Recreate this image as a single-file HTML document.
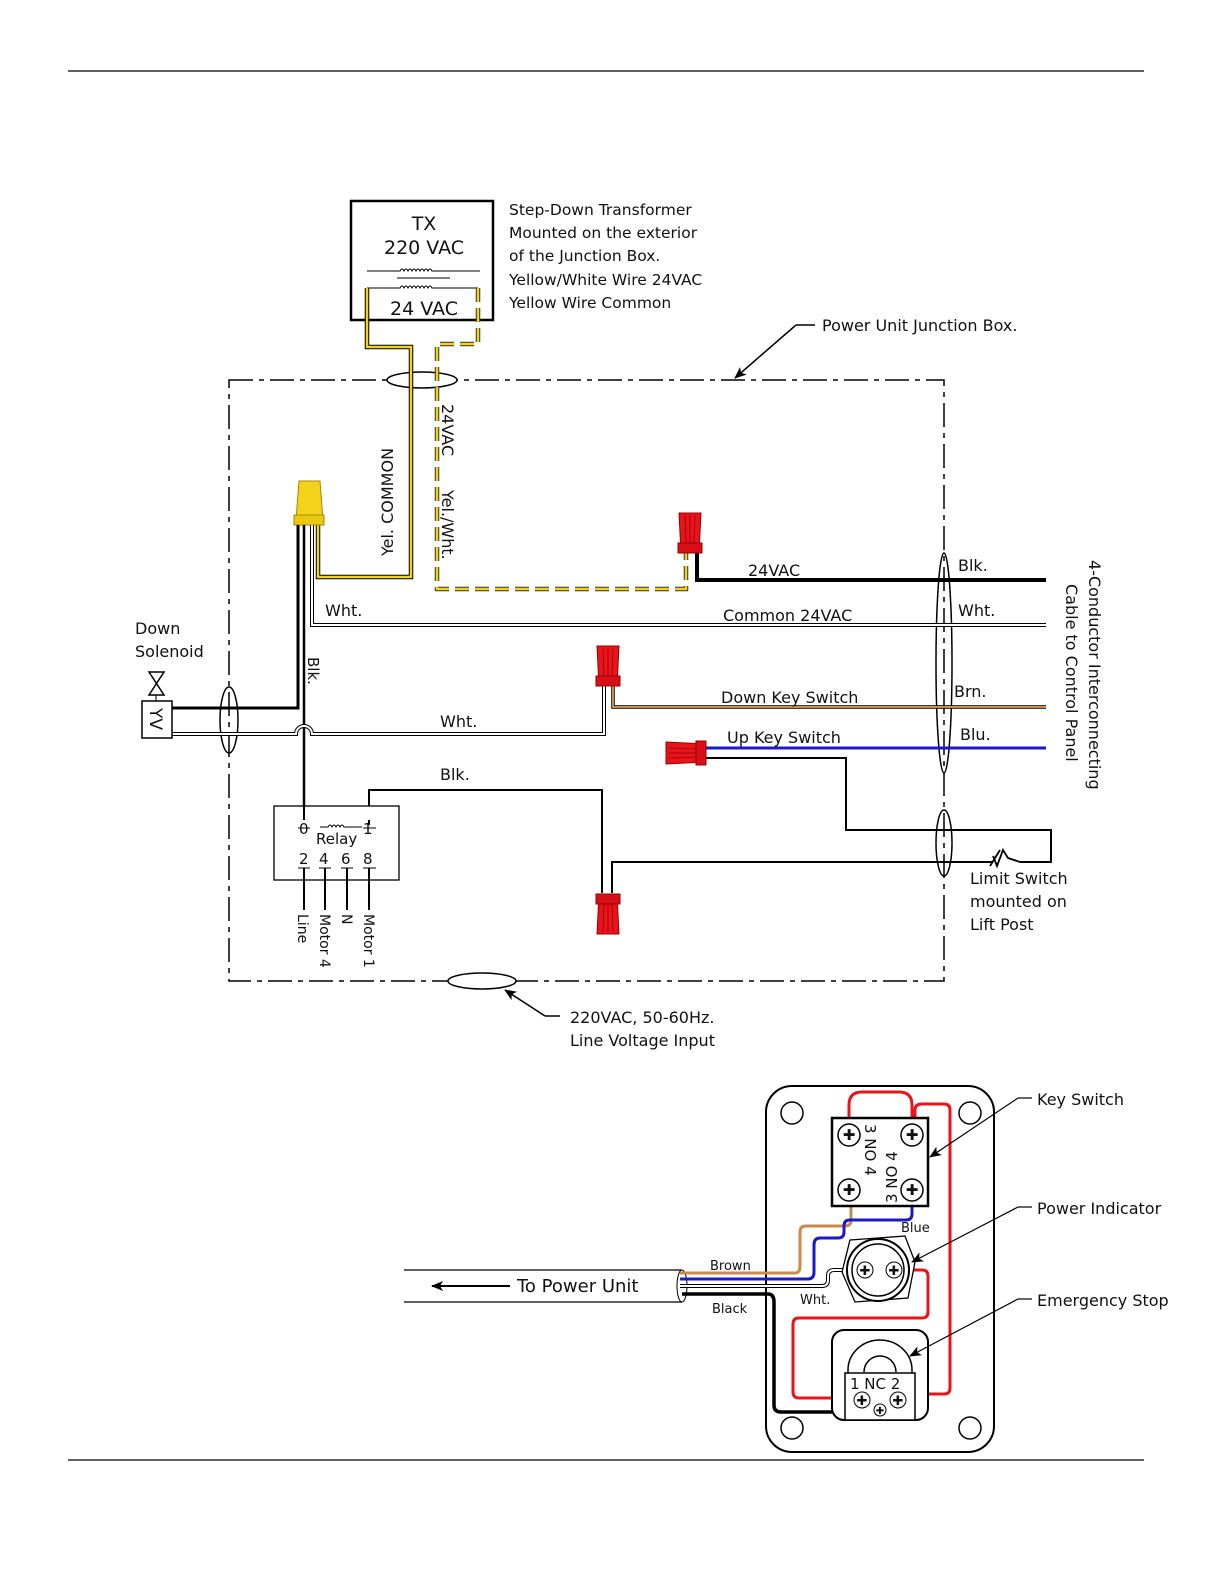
<!DOCTYPE html>
<html><head><meta charset="utf-8"><style>
html,body{margin:0;padding:0;background:#fff;overflow:hidden;width:1224px;height:1584px}
svg{display:block;position:absolute;left:0;top:0}
text{font-family:"DejaVu Sans","Liberation Sans",sans-serif;fill:#111}
</style></head><body>
<svg width="1224" height="1584" viewBox="0 0 1224 1584" xmlns="http://www.w3.org/2000/svg">
<defs>
<marker id="ar" markerWidth="12" markerHeight="10" refX="11" refY="5" orient="auto" markerUnits="userSpaceOnUse"><path d="M0,0 L12,5 L0,10 L3,5 Z" fill="#000"/></marker>
<g id="rc"><path d="M-9,0 L-11,-40 L11,-40 L9,0 Z" fill="#e8141c" stroke="#900" stroke-width="1"/><rect x="-12" y="-10" width="24" height="10" fill="#d71018" stroke="#900"/><path d="M-5,-38 L-4,-10 M0,-38 L0,-10 M5,-38 L4,-10" stroke="#900" stroke-width="0.8"/></g>
</defs>
<line x1="68" y1="71" x2="1144" y2="71" stroke="#000" stroke-width="1.2"/>
<line x1="68" y1="1460" x2="1144" y2="1460" stroke="#000" stroke-width="1.2"/>

<!-- Transformer -->
<rect x="351" y="201" width="142" height="119" fill="none" stroke="#000" stroke-width="2.5"/>
<text x="424" y="230" font-size="19" text-anchor="middle">TX</text>
<text x="424" y="254" font-size="19" text-anchor="middle">220 VAC</text>
<path d="M367,271 H400 q2,-4 4,0 q2,-4 4,0 q2,-4 4,0 q2,-4 4,0 q2,-4 4,0 q2,-4 4,0 q2,-4 4,0 q2,-4 4,0 H480" fill="none" stroke="#000"/>
<line x1="397" y1="278" x2="450" y2="278" stroke="#000"/>
<path d="M367,288 H400 q2,-4 4,0 q2,-4 4,0 q2,-4 4,0 q2,-4 4,0 q2,-4 4,0 q2,-4 4,0 q2,-4 4,0 q2,-4 4,0 H478" fill="none" stroke="#000"/>
<text x="424" y="315" font-size="19" text-anchor="middle">24 VAC</text>
<g font-size="15.5"><text x="509" y="215">Step-Down Transformer</text><text x="509" y="238">Mounted on the exterior</text><text x="509" y="261">of the Junction Box.</text><text x="509" y="285">Yellow/White Wire 24VAC</text><text x="509" y="308">Yellow Wire Common</text></g>

<!-- Junction box -->
<rect x="229" y="380" width="715" height="601" fill="none" stroke="#000" stroke-width="1.5" stroke-dasharray="24,6,5,6"/>
<ellipse cx="422" cy="380" rx="35" ry="8" fill="#fff" stroke="#000" stroke-width="1.5"/>
<ellipse cx="482" cy="981" rx="34" ry="8" fill="#fff" stroke="#000" stroke-width="1.5"/>
<ellipse cx="229" cy="720" rx="9" ry="33" fill="none" stroke="#000" stroke-width="1.5"/>
<ellipse cx="944" cy="663" rx="8" ry="110" fill="none" stroke="#000" stroke-width="1.5"/>
<ellipse cx="944" cy="843" rx="8" ry="33" fill="none" stroke="#000" stroke-width="1.5"/>
<line x1="815" y1="325" x2="796" y2="325" stroke="#000" stroke-width="1.5"/>
<line x1="796" y1="325" x2="735" y2="378" stroke="#000" stroke-width="1.5" marker-end="url(#ar)"/>
<text x="822" y="331" font-size="16">Power Unit Junction Box.</text>

<!-- Yellow common solid -->
<path d="M367,288 V347 H411 V577 H318 V525" fill="none" stroke="#000" stroke-width="4.5"/>
<path d="M367,288 V347 H411 V577 H318 V525" fill="none" stroke="#f2d21b" stroke-width="2.5"/>
<!-- Yellow dashed -->
<path d="M478,288 V344 H437 V589 H686 V553" fill="none" stroke="#333" stroke-width="4.5" stroke-dasharray="14,6"/>
<path d="M478,288 V344 H437 V589 H686 V553" fill="none" stroke="#f2d21b" stroke-width="2.5" stroke-dasharray="14,6"/>
<text transform="translate(393,556) rotate(-90)" font-size="16">Yel.  COMMON</text>
<text transform="translate(442,404) rotate(90)" font-size="16">24VAC</text>
<text transform="translate(442,490) rotate(90)" font-size="16">Yel./Wht.</text>

<!-- yellow connector -->
<path d="M296,520 L299,481 L320,481 L323,520 Z" fill="#f2d21b" stroke="#a08a00"/>
<rect x="294" y="515" width="30" height="10" fill="#e9c80f" stroke="#a08a00"/>

<!-- wires from yellow connector -->
<path d="M298,525 V708 H172" fill="none" stroke="#000" stroke-width="3"/>
<path d="M304,525 V820" fill="none" stroke="#000" stroke-width="2.5"/>
<path d="M312,525 V625 H1046" fill="none" stroke="#000" stroke-width="4"/>
<path d="M312,525 V625 H1046" fill="none" stroke="#fff" stroke-width="2"/>
<text x="325" y="616" font-size="16">Wht.</text>
<text transform="translate(308,657) rotate(90)" font-size="15">Blk.</text>

<!-- white from solenoid to red connector -->
<path d="M172,734 H296 a8,8 0 0 1 16,0 H604 V686" fill="none" stroke="#000" stroke-width="4"/>
<path d="M172,734 H296 a8,8 0 0 1 16,0 H604 V686" fill="none" stroke="#fff" stroke-width="2"/>
<text x="440" y="727" font-size="16">Wht.</text>

<!-- 24VAC black -->
<path d="M697,553 V580 H1046" fill="none" stroke="#000" stroke-width="4"/>
<text x="748" y="576" font-size="16">24VAC</text>
<text x="723" y="621" font-size="16">Common 24VAC</text>
<!-- brown -->
<path d="M613,686 V707 H1046" fill="none" stroke="#000" stroke-width="3.5"/>
<path d="M613,686 V707 H1046" fill="none" stroke="#c98a4a" stroke-width="2"/>
<text x="721" y="703" font-size="16">Down  Key Switch</text>
<!-- blue -->
<path d="M706,748 H1046" fill="none" stroke="#1a1ac8" stroke-width="3"/>
<text x="727" y="743" font-size="16">Up Key Switch</text>
<path d="M706,758 H846 V830 H1051 V862 H1020" fill="none" stroke="#000" stroke-width="2"/>
<path d="M612,893 V862 H993" fill="none" stroke="#000" stroke-width="2"/>
<path d="M993,856 L997,866 L1003,850 L1008,858 L1020,862 M990,866 L1000,850" fill="none" stroke="#000" stroke-width="1.8"/>
<path d="M369,820 V790 H602 V893" fill="none" stroke="#000" stroke-width="2"/>
<text x="440" y="780" font-size="16">Blk.</text>

<g font-size="16"><text x="958" y="571">Blk.</text><text x="958" y="616">Wht.</text><text x="954" y="697">Brn.</text><text x="960" y="740">Blu.</text></g>
<g font-size="16"><text x="970" y="884">Limit Switch</text><text x="970" y="907">mounted on</text><text x="970" y="930">Lift Post</text></g>
<text transform="translate(1089,560) rotate(90)" font-size="16">4-Conductor Interconnecting</text>
<text transform="translate(1066,584) rotate(90)" font-size="16">Cable to  Control Panel</text>

<!-- red connectors -->
<use href="#rc" transform="translate(690,553)"/>
<use href="#rc" transform="translate(608,686)"/>
<use href="#rc" transform="translate(608,894) rotate(180)"/>
<use href="#rc" transform="translate(706,753) rotate(-90)"/>

<!-- solenoid -->
<rect x="142" y="701" width="30" height="37" fill="#fff" stroke="#000" stroke-width="1.5"/>
<text transform="translate(150,708) rotate(90)" font-size="17">YV</text>
<path d="M149,672 L164,672 L149,695 L164,695 Z" fill="none" stroke="#000" stroke-width="1.5"/>
<line x1="156" y1="695" x2="156" y2="701" stroke="#000"/>
<text x="135" y="634" font-size="16">Down</text>
<text x="135" y="657" font-size="16">Solenoid</text>

<!-- relay -->
<rect x="274" y="806" width="125" height="74" fill="#fff" stroke="#000" stroke-width="1.3"/>
<path d="M304,790 V820 M369,820 V825" stroke="#000" stroke-width="2"/>
<path d="M298,828 H310 M363,828 H376" stroke="#000"/>
<path d="M320,827 H328 q2,-4 4,0 q2,-4 4,0 q2,-4 4,0 q2,-4 4,0 H362" fill="none" stroke="#000"/>
<text x="299" y="834" font-size="15">0</text><text x="363" y="834" font-size="15">1</text>
<text x="316" y="844" font-size="15">Relay</text>
<g font-size="15"><text x="299" y="864">2</text><text x="319" y="864">4</text><text x="341" y="864">6</text><text x="363" y="864">8</text></g>
<path d="M298,868 H310 M319,868 H331 M341,868 H353 M363,868 H376" stroke="#000"/>
<path d="M304,868 V910 M325,868 V910 M347,868 V910 M369,868 V910" stroke="#000" stroke-width="2"/>
<g font-size="14"><text transform="translate(298,914) rotate(90)">Line</text><text transform="translate(320,914) rotate(90)">Motor 4</text><text transform="translate(342,914) rotate(90)">N</text><text transform="translate(364,914) rotate(90)">Motor 1</text></g>

<line x1="560" y1="1016" x2="545" y2="1016" stroke="#000" stroke-width="1.5"/>
<line x1="545" y1="1016" x2="505" y2="990" stroke="#000" stroke-width="1.5" marker-end="url(#ar)"/>
<text x="570" y="1023" font-size="16">220VAC, 50-60Hz.</text>
<text x="570" y="1046" font-size="16">Line Voltage Input</text>

<!-- Lower panel -->
<rect x="766" y="1086" width="228" height="366" rx="26" fill="#fff" stroke="#000" stroke-width="2"/>
<g fill="none" stroke="#000" stroke-width="1.5"><circle cx="792" cy="1113" r="11"/><circle cx="970" cy="1113" r="11"/><circle cx="792" cy="1428" r="11"/><circle cx="970" cy="1428" r="11"/></g>
<!-- cable -->
<path d="M404,1270 H682 M404,1302 H682" stroke="#000" stroke-width="1.3"/>
<ellipse cx="682" cy="1286" rx="5" ry="16" fill="#fff" stroke="#000"/>
<line x1="510" y1="1286" x2="432" y2="1286" stroke="#000" stroke-width="2" marker-end="url(#ar)"/>
<text x="517" y="1292" font-size="18">To Power Unit</text>
<!-- wires -->
<path d="M680,1273 H795 Q800,1273 800,1266 V1232 Q800,1226 806,1226 H845 Q851,1226 851,1220 V1206" fill="none" stroke="#c98a4a" stroke-width="3"/>
<path d="M680,1279 H808 Q814,1279 814,1272 V1245 Q814,1238 820,1238 H838 Q844,1238 844,1232 V1226 Q844,1220 850,1220 H906 Q912,1220 912,1214 V1206" fill="none" stroke="#1a1ac8" stroke-width="3"/>
<path d="M680,1286 H822 Q828,1286 828,1280 V1276 Q828,1270 834,1270 H852" fill="none" stroke="#000" stroke-width="4"/>
<path d="M680,1286 H822 Q828,1286 828,1280 V1276 Q828,1270 834,1270 H852" fill="none" stroke="#fff" stroke-width="2"/>
<path d="M682,1294 H768 Q774,1294 774,1302 V1405 Q774,1412 781,1412 H845" fill="none" stroke="#000" stroke-width="3.5"/>
<path d="M849,1118 V1105 Q849,1092 862,1092 H899 Q912,1092 912,1105 V1118" fill="none" stroke="#e8141c" stroke-width="3"/>
<path d="M915,1118 V1110 Q915,1104 922,1104 H944 Q950,1104 950,1110 V1388 Q950,1394 944,1394 H915" fill="none" stroke="#e8141c" stroke-width="3"/>
<path d="M898,1270 H922 Q928,1270 928,1276 V1312 Q928,1318 922,1318 H799 Q793,1318 793,1324 V1392 Q793,1398 799,1398 H845" fill="none" stroke="#e8141c" stroke-width="3"/>
<!-- key switch -->
<rect x="832" y="1118" width="96" height="88" fill="#fff" stroke="#000" stroke-width="2.5"/>
<g fill="#fff" stroke="#000" stroke-width="1.5"><circle cx="849" cy="1135" r="11"/><circle cx="912" cy="1135" r="11"/><circle cx="849" cy="1190" r="11"/><circle cx="912" cy="1190" r="11"/></g>
<g font-size="15" fill="#000"><text x="849" y="1140" text-anchor="middle">✚</text><text x="912" y="1140" text-anchor="middle">✚</text><text x="849" y="1195" text-anchor="middle">✚</text><text x="912" y="1195" text-anchor="middle">✚</text></g>
<g font-size="15"><text transform="translate(865,1124) rotate(90)">3 NO  4</text><text transform="translate(897,1203) rotate(-90)">3 NO  4</text></g>
<!-- power indicator -->
<path d="M850,1240 L905,1236 L915,1262 L908,1298 L855,1302 L842,1272 Z" fill="#fff" stroke="#000" stroke-width="1.3"/>
<circle cx="878" cy="1270" r="31" fill="#fff" stroke="#000" stroke-width="2"/>
<circle cx="878" cy="1270" r="26" fill="none" stroke="#000" stroke-width="1.5"/>
<circle cx="865" cy="1270" r="8" fill="#fff" stroke="#000"/><circle cx="894" cy="1270" r="8" fill="#fff" stroke="#000"/>
<text x="865" y="1275" font-size="13" text-anchor="middle">✚</text><text x="894" y="1275" font-size="13" text-anchor="middle">✚</text>
<text x="901" y="1232" font-size="13">Blue</text>
<text x="710" y="1270" font-size="13">Brown</text>
<text x="800" y="1304" font-size="13">Wht.</text>
<text x="712" y="1313" font-size="13">Black</text>
<!-- e-stop -->
<rect x="832" y="1330" width="96" height="90" rx="12" fill="#fff" stroke="#000" stroke-width="2"/>
<path d="M848,1375 V1370 A32,30 0 0 1 912,1370 V1375" fill="none" stroke="#000" stroke-width="1.5"/>
<path d="M864,1372 A16,16 0 0 1 896,1372" fill="none" stroke="#000" stroke-width="1.5"/>
<rect x="845" y="1373" width="70" height="47" fill="#fff" stroke="#000" stroke-width="1.5"/>
<text x="850" y="1389" font-size="15">1 NC  2</text>
<circle cx="862" cy="1400" r="8" fill="#fff" stroke="#000"/><circle cx="898" cy="1400" r="8" fill="#fff" stroke="#000"/><circle cx="880" cy="1410" r="6" fill="#fff" stroke="#000"/>
<text x="862" y="1405" font-size="13" text-anchor="middle">✚</text><text x="898" y="1405" font-size="13" text-anchor="middle">✚</text><text x="880" y="1414" font-size="10" text-anchor="middle">✚</text>
<!-- callouts -->
<path d="M1032,1098 H1018" stroke="#000" stroke-width="1.2"/><line x1="1018" y1="1098" x2="930" y2="1157" stroke="#000" stroke-width="1.2" marker-end="url(#ar)"/>
<path d="M1032,1207 H1018" stroke="#000" stroke-width="1.2"/><line x1="1018" y1="1207" x2="912" y2="1262" stroke="#000" stroke-width="1.2" marker-end="url(#ar)"/>
<path d="M1032,1299 H1018" stroke="#000" stroke-width="1.2"/><line x1="1018" y1="1299" x2="910" y2="1356" stroke="#000" stroke-width="1.2" marker-end="url(#ar)"/>
<g font-size="16"><text x="1037" y="1105">Key Switch</text><text x="1037" y="1214">Power Indicator</text><text x="1037" y="1306">Emergency Stop</text></g>
</svg>
</body></html>
